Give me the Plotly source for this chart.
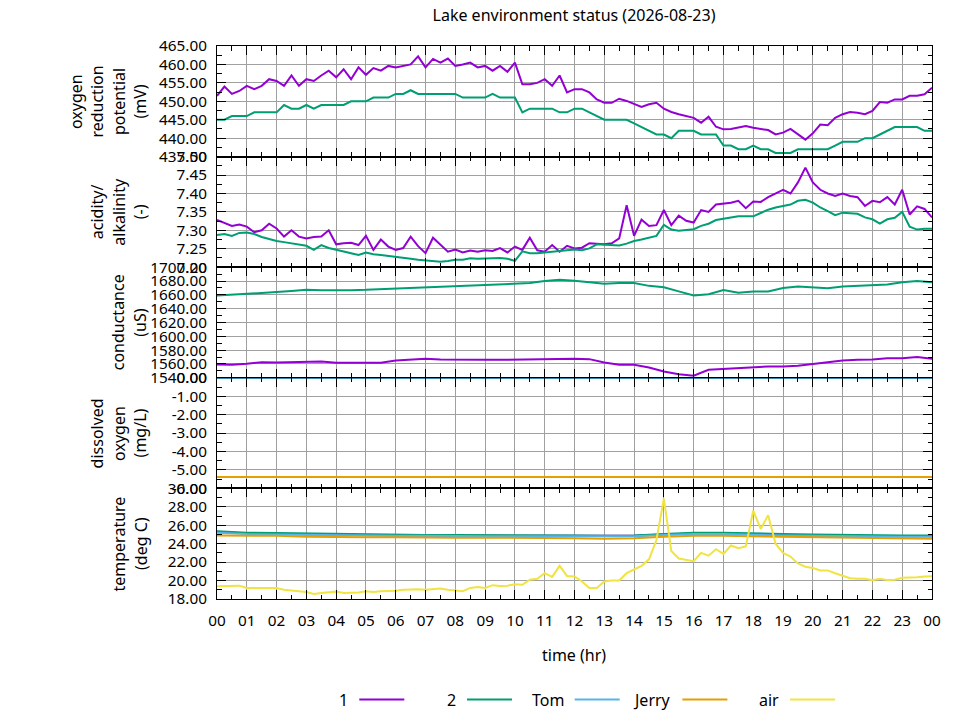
import plotly.graph_objects as go
from plotly.subplots import make_subplots

# time bases (hours)
T15 = [i * 0.25 for i in range(97)]
T30 = [i * 0.5 for i in range(49)]
T60 = [i * 1.0 for i in range(25)]

# oxygen reduction potential (mV), 15 min
ORP_1 = [451.5, 454.0, 452.0, 452.8, 454.2, 453.3, 454.2, 456.0, 455.5, 454.2, 457.0, 454.2,
         456.0, 455.5, 457.0, 458.3, 456.5, 458.7, 456.0, 459.2, 457.2, 459.0, 458.3, 459.6,
         459.2, 459.6, 460.0, 462.2, 459.2, 461.5, 460.5, 461.6, 459.6, 460.0, 460.5, 459.2,
         459.6, 458.3, 459.6, 458.0, 460.5, 454.6, 454.6, 455.0, 456.0, 454.2, 457.0, 452.4,
         453.3, 453.3, 452.4, 450.5, 449.6, 449.6, 450.7, 450.1, 449.2, 448.5, 449.2, 449.6,
         448.0, 447.1, 446.5, 446.0, 445.5, 444.2, 445.8, 443.1, 442.4, 442.5, 442.8, 443.3,
         442.8, 442.4, 442.2, 441.0, 441.5, 442.5, 441.0, 439.6, 441.3, 443.7, 443.5, 445.5,
         446.5, 447.1, 446.9, 446.5, 447.4, 449.8, 449.6, 450.5, 450.5, 451.5, 451.5, 451.9,
         453.7]
ORP_2 = [445, 445, 446, 446, 446, 447, 447, 447, 447, 449, 448, 448,
         449, 448, 449, 449, 449, 449, 450, 450, 450, 451, 451, 451,
         452, 452, 453, 452, 452, 452, 452, 452, 452, 451, 451, 451,
         451, 452, 451, 451, 451, 447, 448, 448, 448, 448, 447, 447,
         448, 448, 447, 446, 445, 445, 445, 445, 444, 443, 442, 441,
         441, 440, 442, 442, 442, 441, 441, 441, 438, 438, 437, 437,
         438, 437, 437, 436, 436, 436, 437, 437, 437, 437, 437, 438,
         439, 439, 439, 440, 440, 441, 442, 443, 443, 443, 443, 442,
         442]

# acidity / alkalinity (-), 15 min
PH_1 = [7.328, 7.320, 7.312, 7.316, 7.310, 7.295, 7.300, 7.318, 7.305, 7.283, 7.300, 7.283,
        7.278, 7.282, 7.283, 7.300, 7.262, 7.265, 7.266, 7.260, 7.285, 7.247, 7.275, 7.256,
        7.247, 7.252, 7.283, 7.257, 7.238, 7.280, 7.260, 7.242, 7.248, 7.240, 7.245, 7.242,
        7.246, 7.244, 7.252, 7.240, 7.256, 7.247, 7.280, 7.246, 7.242, 7.260, 7.242, 7.258,
        7.251, 7.253, 7.265, 7.264, 7.262, 7.265, 7.278, 7.368, 7.285, 7.329, 7.312, 7.314,
        7.355, 7.314, 7.340, 7.326, 7.321, 7.355, 7.350, 7.370, 7.372, 7.375, 7.380, 7.360,
        7.378, 7.377, 7.390, 7.400, 7.410, 7.400, 7.430, 7.470, 7.430, 7.410, 7.400, 7.393,
        7.400, 7.393, 7.390, 7.366, 7.380, 7.376, 7.390, 7.370, 7.410, 7.343, 7.365, 7.358,
        7.335]
PH_2 = [7.287, 7.290, 7.285, 7.293, 7.294, 7.290, 7.282, 7.276, 7.271, 7.268, 7.264, 7.261,
        7.258, 7.247, 7.260, 7.252, 7.247, 7.242, 7.238, 7.233, 7.240, 7.235, 7.233, 7.231,
        7.229, 7.226, 7.223, 7.220, 7.218, 7.216, 7.215, 7.217, 7.220, 7.220, 7.224, 7.223,
        7.224, 7.223, 7.225, 7.223, 7.217, 7.243, 7.238, 7.238, 7.240, 7.243, 7.245, 7.248,
        7.248, 7.246, 7.251, 7.262, 7.261, 7.261, 7.259, 7.264, 7.271, 7.275, 7.280, 7.285,
        7.315, 7.302, 7.299, 7.302, 7.303, 7.312, 7.318, 7.328, 7.331, 7.334, 7.338, 7.338,
        7.338, 7.347, 7.356, 7.362, 7.365, 7.370, 7.380, 7.383, 7.375, 7.362, 7.352, 7.341,
        7.348, 7.347, 7.345, 7.335, 7.330, 7.318, 7.330, 7.334, 7.350, 7.310, 7.302, 7.304,
        7.304]

# conductance (uS), 30 min
COND_1 = [1559.3, 1559, 1560.2, 1562.5, 1562, 1562.5, 1562, 1563.5, 1561.7, 1561.7, 1561.7, 1561.7,
          1565, 1566, 1567.5, 1566.5, 1566, 1566, 1566, 1566, 1566.5, 1566.5, 1566.5, 1567.5,
          1567.5, 1567, 1562, 1559, 1559, 1555, 1549, 1545, 1543, 1551.6, 1553, 1554.5,
          1555.4, 1556.4, 1556.4, 1557.3, 1560, 1562.7, 1565, 1566, 1566.5, 1568.4, 1568.4, 1570,
          1567.5]
COND_2 = [1659, 1660, 1661.4, 1662.5, 1664, 1665.5, 1667.2, 1666.5, 1666.3, 1666.8, 1667.2, 1668,
          1669, 1670, 1671, 1671.5, 1672, 1673, 1674.5, 1675, 1676, 1677, 1680, 1681.7,
          1680.5, 1678, 1676, 1677, 1677, 1673, 1671, 1665, 1659, 1661, 1667, 1663,
          1665, 1665, 1670, 1672, 1671, 1669.6, 1672, 1673, 1673.5, 1675, 1678.3, 1680,
          1678.3]

# dissolved oxygen (mg/L), hourly
DO_TOM = [0.0, 0.0, 0.0, 0.0, 0.0, 0.0, 0.0, 0.0, 0.0, 0.0, 0.0, 0.0, 0.0,
          0.0, 0.0, 0.0, 0.0, 0.0, 0.0, 0.0, 0.0, 0.0, 0.0, 0.0, 0.0]
DO_JERRY = [-5.38, -5.38, -5.38, -5.38, -5.38, -5.38, -5.38, -5.38, -5.38, -5.38, -5.38, -5.38, -5.38,
            -5.38, -5.38, -5.38, -5.38, -5.38, -5.38, -5.38, -5.38, -5.38, -5.38, -5.38, -5.38]

# temperature (deg C), hourly for probes, 15 min for air
TEMP_1 = [25.3, 25.1, 25.05, 25.0, 24.95, 24.95, 24.9, 24.9, 24.85, 24.85, 24.85, 24.85, 24.8,
          24.8, 24.85, 25.0, 25.1, 25.1, 25.0, 24.95, 24.9, 24.85, 24.85, 24.8, 24.8]
TEMP_2 = [25.35, 25.2, 25.15, 25.1, 25.05, 25.0, 25.0, 24.95, 24.95, 24.95, 24.95, 24.95, 24.9,
          24.85, 24.9, 25.05, 25.2, 25.2, 25.1, 25.05, 25.0, 24.95, 24.95, 24.9, 24.9]
TEMP_TOM = [25.2, 25.05, 25.0, 24.95, 24.9, 24.9, 24.85, 24.85, 24.8, 24.8, 24.8, 24.8, 24.75,
            24.75, 24.8, 24.95, 25.05, 25.05, 24.95, 24.9, 24.85, 24.8, 24.8, 24.75, 24.75]
TEMP_JERRY = [24.9, 24.9, 24.85, 24.75, 24.7, 24.7, 24.7, 24.65, 24.65, 24.65, 24.65, 24.65, 24.6,
              24.55, 24.6, 24.75, 24.85, 24.85, 24.8, 24.75, 24.7, 24.65, 24.6, 24.6, 24.55]
TEMP_AIR = [19.37, 19.40, 19.37, 19.45, 19.19, 19.2, 19.2, 19.19, 19.19, 19.0, 18.95, 18.85,
            18.75, 18.55, 18.65, 18.75, 18.8, 18.65, 18.65, 18.7, 18.85, 18.75, 18.85, 18.85,
            18.9, 19.0, 19.05, 19.05, 19.0, 19.05, 19.15, 19.0, 18.9, 18.85, 19.2, 19.3,
            19.2, 19.5, 19.4, 19.45, 19.6, 19.55, 20.1, 20.2, 20.8, 20.4, 21.6, 20.5,
            20.45, 19.9, 19.2, 19.2, 19.9, 20.0, 20.0, 20.8, 21.2, 21.6, 22.3, 24.4,
            28.9, 23.2, 22.4, 22.27, 22.1, 23.0, 22.7, 23.4, 22.9, 23.8, 23.5, 23.7,
            27.6, 25.6, 27.1, 24.0, 23.0, 22.6, 21.85, 21.5, 21.36, 21.1, 21.1, 20.8,
            20.55, 20.25, 20.2, 20.2, 20.03, 20.2, 20.05, 20.1, 20.3, 20.3, 20.35, 20.45,
            20.46]

HOUR_LABELS = ["%02d" % (h % 24) for h in range(25)]
SERIES_NAMES = ["1", "2", "Tom", "Jerry", "air"]
COLORS = ["#9400d3", "#009e73", "#56b4e9", "#e69f00", "#f0e442"]

PANEL_TITLES = [["oxygen", "reduction", "potential", "(mV)"],
                ["acidity/", "alkalinity", "(-)"],
                ["conductance", "(uS)"],
                ["dissolved", "oxygen", "(mg/L)"],
                ["temperature", "(deg C)"]]
# (min, max, major step, minor step)
PANEL_RANGES = [(435, 465, 5, 2.5),
                (7.20, 7.50, 0.05, 0.025),
                (1540, 1700, 20, 10),
                (-6, 0, 1, 0.5),
                (18, 30, 2, 1)]

# the page puts the plot 8px in from the top-left corner
OFF = 8
W, H = 960 - OFF, 720 - OFF
L, R, T, B = 216.7 - OFF, 931.7 - OFF, 45.7 - OFF, 599.3 - OFF
FONT = "Noto Sans"


def px_x(x):
    return (x - OFF - L) / (R - L)


def px_y(y):
    return (B - (y - OFF)) / (B - T)


fig = make_subplots(rows=5, cols=1, shared_xaxes=True, vertical_spacing=0)


def add_line(row, t, y, idx):
    fig.add_trace(go.Scatter(x=t, y=y, mode="lines", name=SERIES_NAMES[idx],
                             line=dict(color=COLORS[idx], width=2),
                             showlegend=False), row=row, col=1)


add_line(1, T15, ORP_1, 0)
add_line(1, T15, ORP_2, 1)
add_line(2, T15, PH_1, 0)
add_line(2, T15, PH_2, 1)
add_line(3, T30, COND_1, 0)
add_line(3, T30, COND_2, 1)
add_line(4, T60, DO_TOM, 2)
add_line(4, T60, DO_JERRY, 3)
add_line(5, T60, TEMP_1, 0)
add_line(5, T60, TEMP_2, 1)
add_line(5, T60, TEMP_TOM, 2)
add_line(5, T60, TEMP_JERRY, 3)
add_line(5, T15, TEMP_AIR, 4)

for i, (lo, hi, step, minor) in enumerate(PANEL_RANGES):
    row = i + 1
    n = int(round((hi - lo) / step))
    vals = [lo + k * step for k in range(n + 1)]
    fig.update_yaxes(range=[lo, hi], tickmode="array", tickvals=vals,
                     ticktext=["%.2f" % v for v in vals],
                     ticks="inside", ticklen=9, tickcolor="black",
                     minor=dict(dtick=minor, tick0=lo, ticks="inside", ticklen=4.5,
                                tickcolor="black", showgrid=False),
                     showgrid=True, gridcolor="#a0a0a0", gridwidth=1,
                     showline=True, linecolor="black", linewidth=1, mirror="ticks",
                     zeroline=False, ticklabelstandoff=6,
                     tickfont=dict(size=15.3, color="black"), row=row, col=1)
    fig.update_xaxes(range=[0, 24], tickmode="array", tickvals=T60, ticktext=HOUR_LABELS,
                     ticks="inside", ticklen=9, tickcolor="black",
                     minor=dict(dtick=0.5, tick0=0, ticks="inside", ticklen=4.5,
                                tickcolor="black", showgrid=False),
                     showgrid=True, gridcolor="#a0a0a0", gridwidth=1,
                     showline=True, linecolor="black", linewidth=1, mirror="ticks",
                     zeroline=False, ticklabelstandoff=8,
                     tickfont=dict(size=15.3, color="black"), row=row, col=1)
    lines = PANEL_TITLES[i]
    yref = "y%s domain" % ("" if row == 1 else row)
    for j, txt in enumerate(lines):
        cx = 140 - 21.5 * (len(lines) - 1 - j)
        fig.add_annotation(text=txt, textangle=-90, xref="paper", x=px_x(cx),
                           xanchor="center", yref=yref, y=0.5, yanchor="middle",
                           showarrow=False, font=dict(size=16, color="black"))

fig.add_annotation(text="time (hr)", xref="paper", yref="paper", x=px_x(574), y=px_y(655),
                   xanchor="center", yanchor="middle", showarrow=False,
                   font=dict(size=16, color="black"))

# gnuplot style key: label then line sample
for i, name in enumerate(SERIES_NAMES):
    x0 = 359 + i * 107.7
    fig.add_annotation(text=name, xref="paper", yref="paper", x=px_x(x0 - 9), y=px_y(700),
                       xanchor="right", yanchor="middle", showarrow=False,
                       font=dict(size=16, color="black"))
    fig.add_shape(type="line", xref="paper", yref="paper", x0=px_x(x0), x1=px_x(x0 + 45),
                  y0=px_y(700), y1=px_y(700), line=dict(color=COLORS[i], width=2))

fig.update_layout(
    width=W, height=H,
    margin=dict(l=L, r=W - R, t=T, b=H - B, autoexpand=False),
    title=dict(text="Lake environment status (2026-08-23)", x=(574 - OFF) / W, xanchor="center",
               y=1 - (15 - OFF) / H, yanchor="middle", font=dict(size=16, color="black")),
    font=dict(family=FONT, size=16, color="black"),
    plot_bgcolor="white", paper_bgcolor="white",
    showlegend=False,
)

fig.write_html("out.html")
